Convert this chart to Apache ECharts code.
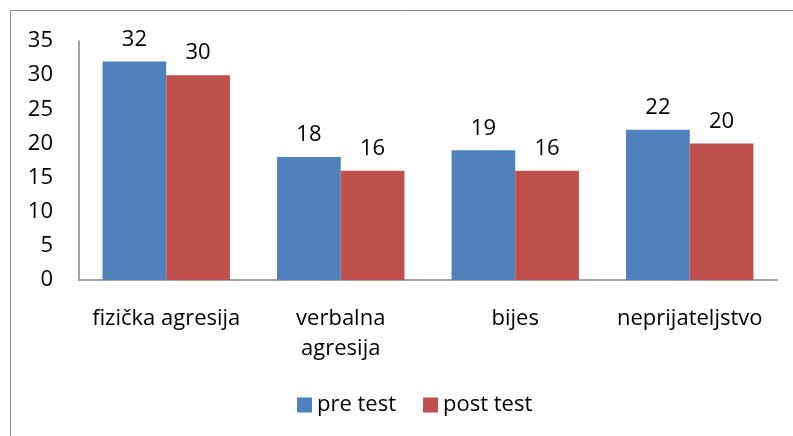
<!DOCTYPE html>
<html lang="en">
<head>
    <meta charset="UTF-8">
    <title>Agresija chart</title>
    <script src="https://cdnjs.cloudflare.com/ajax/libs/echarts/6.0.0/echarts.min.js"></script>
    <style>
        body { margin: 0; background: #fff; }
        #main { width: 793px; height: 436px; }
    </style>
</head>
<body>
    <div id="main"></div>
    <script>
        const categories = ["fizička agresija", "verbalna\nagresija", "bijes", "neprijateljstvo"];
        const preTest = [32, 18, 19, 22];
        const postTest = [30, 16, 16, 20];
        const seriesNames = ["pre test", "post test"];

        const chart = echarts.init(document.getElementById('main'));
        const font = "'Open Sans', 'Liberation Sans', sans-serif";
        const fs = 22;

        function barSeries(name, data, color) {
            return {
                name: name,
                type: 'bar',
                data: data,
                barGap: '0%',
                barCategoryGap: '27%',
                itemStyle: { color: color },
                label: {
                    show: true,
                    position: 'top',
                    distance: 11,
                    color: '#000',
                    fontSize: fs,
                    fontFamily: font
                }
            };
        }

        const option = {
            animation: false,
            textStyle: { fontFamily: font },
            graphic: [{
                type: 'rect',
                shape: { x: 10.5, y: 10.5, width: 800, height: 440 },
                style: { fill: 'none', stroke: '#8c8c8c', lineWidth: 1 }
            }],
            grid: { left: 79, right: 16, top: 41, bottom: 156 },
            legend: {
                data: seriesNames,
                bottom: 15,
                left: 292,
                itemWidth: 15,
                itemHeight: 15,
                itemGap: 27,
                icon: 'rect',
                textStyle: { fontSize: fs, color: '#000', fontFamily: font }
            },
            xAxis: {
                type: 'category',
                data: categories,
                axisLine: { lineStyle: { color: '#868686', width: 1.5 } },
                axisTick: { show: false },
                axisLabel: {
                    color: '#000',
                    fontSize: fs,
                    margin: 24,
                    lineHeight: 30,
                    fontFamily: font,
                    interval: 0
                }
            },
            yAxis: {
                type: 'value',
                min: 0,
                max: 35,
                interval: 5,
                axisLine: { show: true, lineStyle: { color: '#868686', width: 1.5 } },
                axisTick: { show: false },
                splitLine: { show: false },
                axisLabel: { color: '#000', fontSize: fs, margin: 26, fontFamily: font }
            },
            series: [
                barSeries(seriesNames[0], preTest, '#4F81BD'),
                barSeries(seriesNames[1], postTest, '#C0504D')
            ]
        };

        chart.setOption(option);
    </script>
</body>
</html>
